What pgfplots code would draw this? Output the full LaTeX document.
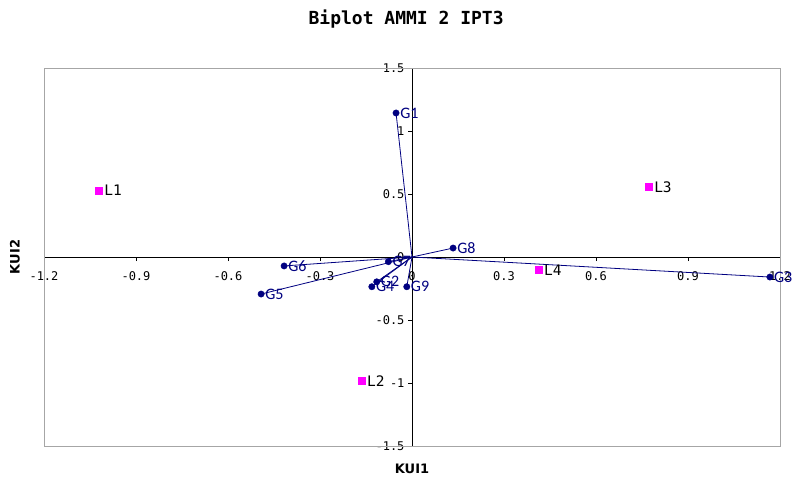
\documentclass[border=0pt]{standalone}
\usepackage{fontspec}
\usepackage{pgfplots}
\pgfplotsset{compat=1.18}
\usepackage{pgfplotstable}
\newfontfamily\monof{DejaVu Sans Mono}
\newfontfamily\carf{Carlito}
\newfontfamily\dvsf{DejaVu Sans}
\definecolor{navy}{RGB}{0,0,128}
\definecolor{mag}{RGB}{255,0,255}

\pgfplotstableread{
name x y
G1 -0.052 1.143
G2 -0.115 -0.197
G3 1.167 -0.159
G4 -0.131 -0.236
G5 -0.492 -0.294
G6 -0.417 -0.071
G7 -0.077 -0.037
G8 0.134 0.071
G9 -0.017 -0.236
}\gtab

\pgfplotstableread{
name x y
L1 -1.020 0.530
L2 -0.163 -0.984
L3 0.773 0.556
L4 0.414 -0.103
}\ltab

\begin{document}
\begin{tikzpicture}[x=1pt,y=1pt]
\useasboundingbox (-44,-31) rectangle (749,446);
\begin{axis}[
  at={(0,0)}, anchor=south west,
  width=736pt, height=378pt, scale only axis,
  xmin=-1.2, xmax=1.2, ymin=-1.5, ymax=1.5,
  axis lines=middle,
  axis line style={black,-},
  clip=false,
  xtick={-1.2,-0.9,-0.6,-0.3,0,0.3,0.6,0.9,1.2},
  ytick={-1.5,-1,-0.5,0,0.5,1,1.5},
  hide obscured x ticks=false,
  hide obscured y ticks=false,
  tick align=outside,
  major tick length=4pt,
  tick style={black},
  /pgf/number format/assume math mode=true,
  xticklabel style={/pgf/number format/fixed, /pgf/number format/precision=1, yshift=-7pt},
  yticklabel style={/pgf/number format/fixed, /pgf/number format/precision=1},
  ticklabel style={font=\monof\fontsize{12}{13}\selectfont},
  xlabel={KUI1},
  ylabel={KUI2},
  xlabel style={at={(axis description cs:0.5,-0.06)}, anchor=center, font=\dvsf\bfseries\fontsize{13}{13}\selectfont},
  ylabel style={at={(axis description cs:-0.0394,0.5)}, anchor=center, rotate=90, font=\dvsf\bfseries\fontsize{13}{13}\selectfont},
  title={Biplot AMMI 2 IPT3},
  title style={at={(axis description cs:0.492,1)}, anchor=center, yshift=43pt, font=\monof\bfseries\fontsize{18}{18}\selectfont},
]
\draw[gray!70, line width=0.8pt] (rel axis cs:0,0) rectangle (rel axis cs:1,1);
\addplot[navy, line width=0.8pt, -, quiver={u=\thisrow{x}, v=\thisrow{y}}] table[x expr=0, y expr=0] {\gtab};
\addplot[only marks, mark=*, mark size=3.2pt, navy,
  nodes near coords, point meta=explicit symbolic,
  every node near coord/.style={anchor=west, xshift=3pt, inner sep=1pt, text=navy, font=\carf\fontsize{16}{16}\selectfont}]
  table[x=x, y=y, meta=name] {\gtab};
\addplot[only marks, mark=square*, mark size=3.5pt, mag,
  nodes near coords, point meta=explicit symbolic,
  every node near coord/.style={anchor=west, xshift=4pt, inner sep=1pt, text=black, font=\monof\fontsize{14.5}{14.5}\selectfont}]
  table[x=x, y=y, meta=name] {\ltab};
\end{axis}
\end{tikzpicture}
\end{document}
